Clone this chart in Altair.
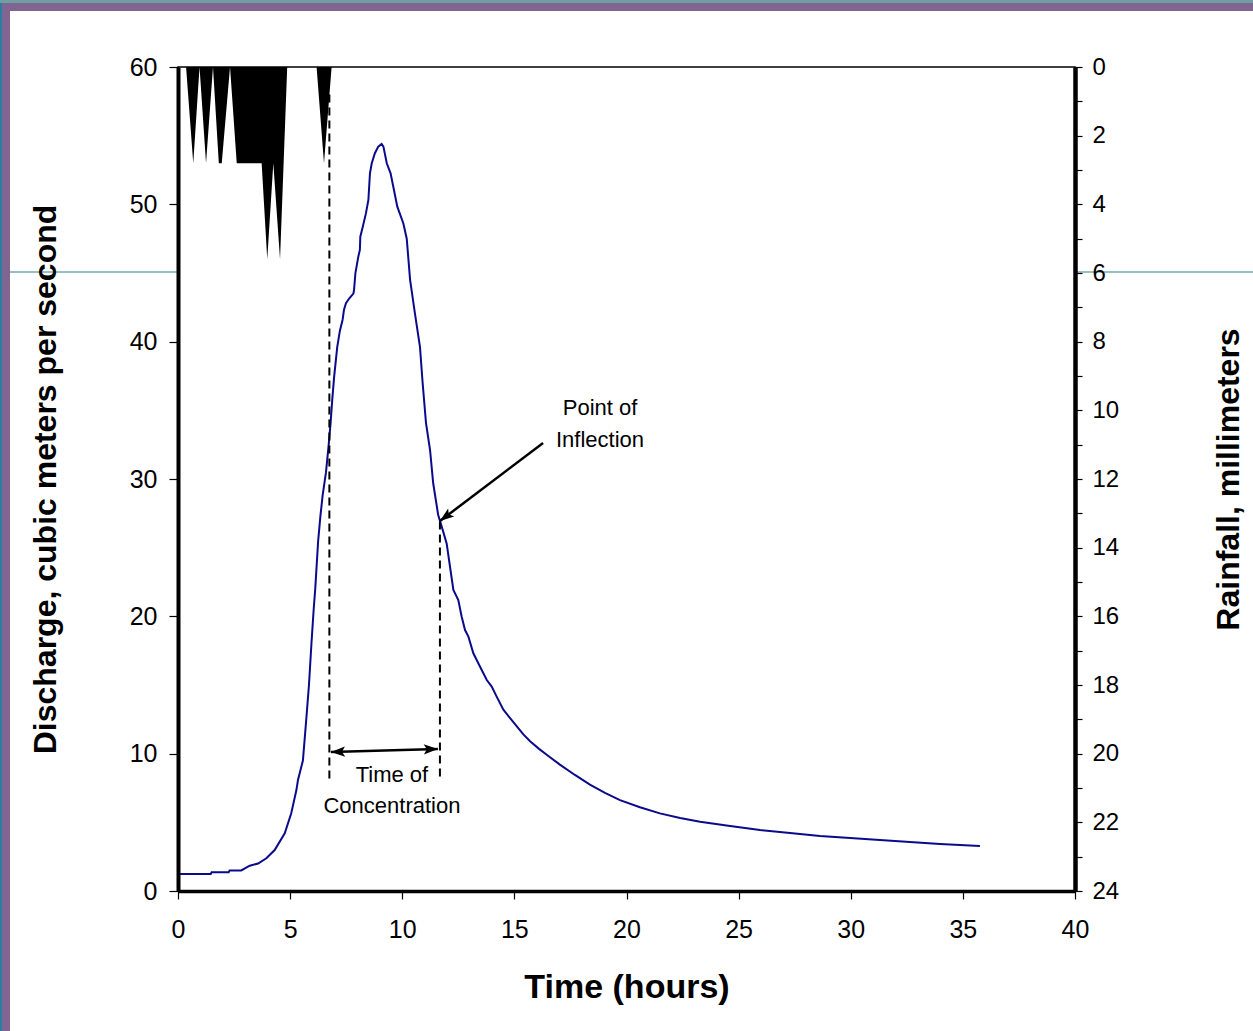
import altair as alt
import pandas as pd

# ---------------- data ----------------
time_h = [0, 1.46, 1.5, 2.26, 2.3, 2.82, 3.2, 3.57, 3.94, 4.31, 4.76, 5.05, 5.28, 5.35,
          5.57, 5.72, 5.84, 5.95, 6.05, 6.12, 6.25, 6.35, 6.45, 6.6, 6.72, 6.8, 6.88, 6.96,
          7.10, 7.22, 7.34, 7.40, 7.49, 7.64, 7.82, 7.85, 7.91, 8.04, 8.11, 8.13, 8.24,
          8.38, 8.49, 8.56, 8.64, 8.78, 8.93, 9.08, 9.16, 9.31, 9.48, 9.63, 9.78, 10.05,
          10.20, 10.35, 10.57, 10.79, 10.91, 11.06, 11.24, 11.38, 11.6, 11.76, 11.98,
          12.13, 12.28, 12.50, 12.65, 12.80, 12.95, 13.17, 13.47, 13.77, 13.99, 14.21,
          14.51, 14.80, 15.10, 15.40, 15.70, 16.1, 16.5, 17.03, 17.7, 18.37, 19.04, 19.71,
          20.6, 21.49, 22.39, 23.28, 24.62, 25.95, 27.29, 28.63, 29.97, 31.3, 32.64,
          33.98, 35.76]
discharge_cms = [1.24, 1.24, 1.36, 1.36, 1.5, 1.5, 1.84, 2.0, 2.38, 2.98, 4.2, 5.66, 7.35, 8.08,
                 9.5, 12.5, 15.0, 18.0, 20.5, 22.0, 25.5, 27.3, 28.8, 30.5, 32.5, 34.0, 35.8, 37.4,
                 39.6, 40.8, 41.6, 42.3, 42.8, 43.16, 43.5, 43.76, 44.97, 46.19, 46.68, 47.64, 48.37,
                 49.34, 50.32, 52.26, 52.99, 53.72, 54.2, 54.39, 54.2, 52.99, 52.26, 51.04, 49.83, 48.61,
                 47.5, 44.5, 42.0, 39.63, 36.97, 34.06, 32.11, 29.69, 27.4, 26.53, 25.31,
                 23.61, 21.92, 21.19, 19.97, 19.0, 18.52, 17.31, 16.33, 15.36, 14.88, 14.15,
                 13.2, 12.6, 12.0, 11.4, 10.9, 10.35, 9.85, 9.2, 8.45, 7.75, 7.15, 6.62,
                 6.1, 5.65, 5.32, 5.04, 4.73, 4.44, 4.22, 4.0, 3.86, 3.71, 3.57,
                 3.42, 3.28]

rain_time_h = [0.36, 0.68, 0.96, 1.25, 1.56, 1.82, 1.95, 2.32, 2.62, 3.73, 3.98, 4.25,
               4.55, 4.87, 6.18, 6.51, 6.85]
rain_mm = [0, 2.8, 0, 2.8, 0, 2.8, 2.8, 0, 2.8, 2.8, 5.6, 2.8, 5.6, 0, 0, 2.8, 0]

# annotation geometry (data units)
dash_t = [6.75, 11.68]
dash_q_top = [58.0, 26.9]
dash_q_bottom = [8.2, 8.2]

arrow_t = [6.82, 16.28]
arrow_t2 = [11.59, 11.68]
arrow_q = [10.12, 32.62]
arrow_q2 = [10.34, 26.94]

head_t = [6.82, 11.59, 11.68]
head_q = [10.12, 10.34, 26.94]
head_angle = [178.4, 358.4, 142.9]

label_text = ["Point of", "Inflection", "Time of", "Concentration"]
label_t = [18.82, 18.82, 9.54, 9.54]
label_q = [35.17, 32.84, 8.45, 6.19]

x_ticks = list(range(0, 41, 5))
q_ticks = list(range(0, 61, 10))
rain_ticks = list(range(0, 25))

# ---------------- chart ----------------
FONT = "Liberation Sans"
W, H = 897, 824

common_axis = dict(
    domainColor="black", tickColor="black", labelColor="black", titleColor="black",
    labelFont=FONT, titleFont=FONT, titleFontWeight="bold",
    grid=False, zindex=1,
)

x_enc = alt.X(
    "t:Q",
    scale=alt.Scale(domain=[0, 40], nice=False, zero=False),
    axis=alt.Axis(values=x_ticks, title="Time (hours)", domainWidth=3.5, tickWidth=1.2,
                  tickSize=8, labelPadding=18, labelFontSize=25, labelFlush=False,
                  titleFontSize=34, titleX=W / 2, titleY=106,
                  titleAlign="center", titleBaseline="alphabetic", **common_axis),
)
y_enc = alt.Y(
    "q:Q",
    scale=alt.Scale(domain=[0, 60], nice=False),
    axis=alt.Axis(orient="left", values=q_ticks, title="Discharge, cubic meters per second",
                  domainWidth=4, tickWidth=1.2, tickSize=9, labelPadding=12,
                  labelFontSize=25, labelFlush=False,
                  titleFontSize=32, titleAngle=270, titleX=-123, titleY=H / 2,
                  titleAlign="center", titleBaseline="alphabetic", **common_axis),
)

flow = pd.DataFrame({"t": time_h, "q": discharge_cms, "o": list(range(len(time_h)))})
line = alt.Chart(flow).mark_line(color="#0a0a8a", strokeWidth=2).encode(
    x=x_enc, y=y_enc, order="o:Q")

dash_df = pd.DataFrame({"t": dash_t, "q": dash_q_top, "q2": dash_q_bottom})
dashes = alt.Chart(dash_df).mark_rule(color="black", strokeWidth=2, strokeDash=[8, 5]).encode(
    x=x_enc, y=y_enc, y2="q2:Q")

arrow_df = pd.DataFrame({"t": arrow_t, "t2": arrow_t2, "q": arrow_q, "q2": arrow_q2})
arrows = alt.Chart(arrow_df).mark_rule(color="black", strokeWidth=2.5).encode(
    x=x_enc, x2="t2:Q", y=y_enc, y2="q2:Q")

head_df = pd.DataFrame({"t": head_t, "q": head_q, "a": head_angle})
heads = alt.Chart(head_df).mark_point(
    shape="M0,0L-1,-0.36L-0.78,0L-1,0.36Z", filled=True, color="black", opacity=1,
    size=800, strokeWidth=0).encode(
    x=x_enc, y=y_enc, angle=alt.Angle("a:Q", scale=None))

label_df = pd.DataFrame({"t": label_t, "q": label_q, "label": label_text})
labels = alt.Chart(label_df).mark_text(
    font=FONT, fontSize=22, color="black", align="center", baseline="middle").encode(
    x=x_enc, y=y_enc, text="label:N")

# slide frame decoration (outside the plot)
deco_df = pd.DataFrame({"k": [0]})
frame_left = alt.Chart(deco_df).mark_rect(color="#806593").encode(
    x=alt.value(-176), x2=alt.value(-168), y=alt.value(-64), y2=alt.value(964))
frame_top = alt.Chart(deco_df).mark_rect(color="#806593").encode(
    x=alt.value(-176), x2=alt.value(1075), y=alt.value(-64), y2=alt.value(-56))
edge_left = alt.Chart(deco_df).mark_rect(color="#2a7fa0").encode(
    x=alt.value(-178), x2=alt.value(-176), y=alt.value(-67), y2=alt.value(964))
edge_top = alt.Chart(deco_df).mark_rect(color="#6f9ea3").encode(
    x=alt.value(-178), x2=alt.value(1075), y=alt.value(-67), y2=alt.value(-64))
teal_l = alt.Chart(deco_df).mark_rule(color="#2f7f8a", strokeWidth=1).encode(
    x=alt.value(-168), x2=alt.value(0), y=alt.value(205))
teal_r = alt.Chart(deco_df).mark_rule(color="#2f7f8a", strokeWidth=1).encode(
    x=alt.value(W), x2=alt.value(1075), y=alt.value(205))

left_group = alt.layer(frame_left, frame_top, edge_left, edge_top, teal_l, teal_r,
                       line, dashes, arrows, heads, labels)

rain_df = pd.DataFrame({"t": rain_time_h, "r": rain_mm})
rain = alt.Chart(rain_df).mark_area(color="black", opacity=1, interpolate="linear").encode(
    x=x_enc,
    y=alt.Y("r:Q",
            scale=alt.Scale(domain=[0, 24], reverse=True, nice=False),
            axis=alt.Axis(orient="right", values=rain_ticks,
                          labelExpr="datum.value % 2 == 0 ? datum.label : ''",
                          title="Rainfall, millimeters", domainWidth=4.5, tickWidth=1.2,
                          tickSize=7, labelPadding=10, labelFontSize=24, labelFlush=False,
                          titleFontSize=32, titleAngle=270,
                          titleX=163, titleY=H / 2, titleAlign="center",
                          titleBaseline="alphabetic", **common_axis)),
)

chart = alt.layer(left_group, rain).resolve_scale(y="independent").properties(
    width=W, height=H,
    padding={"left": 178, "top": 67, "right": 178, "bottom": 140},
    autosize=alt.AutoSizeParams(type="none"),
    background="white",
).configure_view(stroke="black", strokeWidth=1.5)

chart.save("out.html", embed_options={"renderer": "svg", "actions": False})
